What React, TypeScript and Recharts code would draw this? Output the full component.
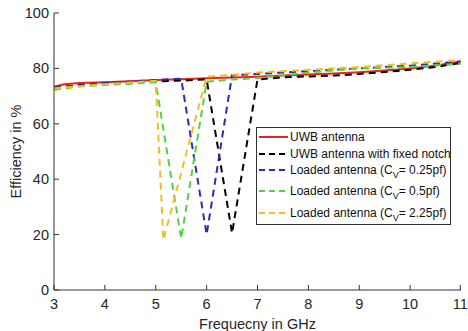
import React from 'react';
import { LineChart, Line, XAxis, YAxis, Legend } from 'recharts';

// frequency (GHz) / efficiency (%)
const uwbFreq = [3, 3.2, 3.5, 4, 4.5, 5, 5.5, 6, 6.5, 7, 7.5, 8, 8.5, 9, 9.5, 10, 10.5, 11];
const uwbEff = [73.4, 74.3, 74.7, 75, 75.4, 75.8, 76.1, 76.4, 76.7, 77, 77.4, 77.8, 78.2, 78.6, 79.2, 80, 81, 82.6];

const notchFreq = [3, 3.5, 4, 4.5, 5, 5.5, 6, 6.5, 7, 7.5, 8, 8.5, 9, 9.5, 10, 10.5, 11];
const notchEff = [73, 74, 74.5, 75, 75.3, 75.6, 76, 20.5, 76, 76.8, 77.1, 77.4, 78, 78.7, 79.5, 80.5, 82];

const cv025Freq = [3, 4, 5, 5.5, 6, 6.5, 7, 7.5, 8, 9, 10, 11];
const cv025Eff = [73, 74.7, 75.8, 76.3, 20, 77.5, 78, 78.5, 79, 80, 81, 82.5];

const cv05Freq = [3, 3.5, 4, 4.5, 5, 5.5, 6, 6.5, 7, 7.5, 8, 9, 10, 11];
const cv05Eff = [72.3, 73.5, 74, 74.5, 75, 18.5, 75.2, 76, 76.5, 77.5, 78.5, 80, 80.5, 81.7];

const cv225Freq = [3, 4, 5, 5.15, 6, 6.5, 7, 8, 9, 10, 11];
const cv225Eff = [72.8, 74.3, 75.5, 18, 77, 77.7, 78.5, 79.5, 80.5, 81.8, 83];

const xTicks = [3, 4, 5, 6, 7, 8, 9, 10, 11];
const yTicks = [0, 20, 40, 60, 80, 100];

const toPts = (f: number[], e: number[]) => f.map((x, i) => ({ f: x, e: e[i] }));

const series = [
  { name: 'UWB antenna', sub: '', tail: '', data: toPts(uwbFreq, uwbEff), color: '#e8241c', dash: undefined },
  { name: 'UWB antenna with fixed notch', sub: '', tail: '', data: toPts(notchFreq, notchEff), color: '#000000', dash: '7 5' },
  { name: 'Loaded antenna (C', sub: 'V', tail: '= 0.25pf)', data: toPts(cv025Freq, cv025Eff), color: '#2b2bb5', dash: '7 5' },
  { name: 'Loaded antenna (C', sub: 'V', tail: '= 0.5pf)', data: toPts(cv05Freq, cv05Eff), color: '#4fd43f', dash: '7 5' },
  { name: 'Loaded antenna (C', sub: 'V', tail: '= 2.25pf)', data: toPts(cv225Freq, cv225Eff), color: '#f2c01e', dash: '7 5' },
];

// legend row centres, px from legend top
const rowY = [9, 26, 42, 63, 85];

const FONT = '"Liberation Sans", Arial, sans-serif';
const AX = '#333';
const TXT = '#262626';

const XTick = (props: any) => {
  const { x, y, payload } = props;
  return (
    <g>
      <line x1={x} y1={y} x2={x} y2={y - 5} stroke={AX} />
      <text x={x} y={y + 19} textAnchor="middle" fontSize={14.5} fill={TXT} fontFamily={FONT}>
        {payload.value}
      </text>
    </g>
  );
};

const TopTick = (props: any) => {
  const { x, y } = props;
  return <line x1={x} y1={y} x2={x} y2={y + 5} stroke={AX} />;
};

const YTick = (props: any) => {
  const { x, y, payload } = props;
  return (
    <g>
      <line x1={x} y1={y} x2={x + 5} y2={y} stroke={AX} />
      <text x={x - 5} y={y + 5} textAnchor="end" fontSize={14.5} fill={TXT} fontFamily={FONT}>
        {payload.value}
      </text>
    </g>
  );
};

const RightTick = (props: any) => {
  const { x, y } = props;
  return <line x1={x} y1={y} x2={x - 5} y2={y} stroke={AX} />;
};

const XLabel = (props: any) => {
  const { viewBox } = props;
  return (
    <text x={viewBox.x + viewBox.width / 2} y={329} textAnchor="middle" fontSize={14.5} fill={TXT} fontFamily={FONT}>
      Frequecny in GHz
    </text>
  );
};

const YLabel = (props: any) => {
  const { viewBox } = props;
  const cy = viewBox.y + viewBox.height / 2;
  return (
    <text x={21} y={cy} transform={`rotate(-90 21 ${cy})`} textAnchor="middle" fontSize={14.5} fill={TXT} fontFamily={FONT}>
      Efficiency in %
    </text>
  );
};

const LegendBox = () => (
  <div
    style={{
      position: 'relative',
      border: '1px solid #333',
      background: '#fff',
      width: 195,
      height: 98,
      fontFamily: FONT,
      fontSize: 12,
      color: '#111',
      boxSizing: 'border-box',
    }}
  >
    {series.map((s, i) => (
      <div
        key={i}
        style={{ position: 'absolute', left: 2, top: rowY[i] - 9, height: 18, display: 'flex', alignItems: 'center', lineHeight: '16px' }}
      >
        <svg width={30} height={6} style={{ marginRight: 1 }}>
          <line x1={0} y1={3} x2={29} y2={3} stroke={s.color} strokeWidth={2} strokeDasharray={s.dash ? '6 4' : undefined} />
        </svg>
        <span style={{ whiteSpace: 'nowrap' }}>
          {s.name}
          {s.sub && (
            <span style={{ fontSize: 9, position: 'relative', top: 4 }}>{s.sub}</span>
          )}
          {s.tail}
        </span>
      </div>
    ))}
  </div>
);

export default function App() {
  return (
    <div style={{ position: 'absolute', left: 0, top: 0, background: '#fff' }}>
      <LineChart width={468} height={331} margin={{ top: 13, right: 7, bottom: 0, left: 14 }}>
        <XAxis
          dataKey="f"
          type="number"
          domain={[3, 11]}
          ticks={xTicks}
          allowDuplicatedCategory={false}
          stroke={AX}
          tickSize={0}
          tickMargin={0}
          tick={<XTick />}
          height={41}
          label={<XLabel />}
        />
        <XAxis xAxisId="top" orientation="top" type="number" domain={[3, 11]} ticks={xTicks} stroke={AX} tickSize={0} tick={<TopTick />} height={0} />
        <YAxis
          type="number"
          domain={[0, 100]}
          ticks={yTicks}
          stroke={AX}
          tickSize={0}
          tickMargin={0}
          tick={<YTick />}
          width={40}
          label={<YLabel />}
        />
        <YAxis yAxisId="right" orientation="right" type="number" domain={[0, 100]} ticks={yTicks} stroke={AX} tickSize={0} tick={<RightTick />} width={0} />
        <Legend
          layout="horizontal"
          align="center"
          verticalAlign="middle"
          content={<LegendBox />}
          wrapperStyle={{ left: 256, top: 127, width: 195 }}
        />
        {series.map((s) => (
          <Line
            key={s.name + s.tail}
            data={s.data}
            dataKey="e"
            type="linear"
            stroke={s.color}
            strokeWidth={2}
            strokeDasharray={s.dash}
            dot={false}
            isAnimationActive={false}
          />
        ))}
      </LineChart>
    </div>
  );
}
